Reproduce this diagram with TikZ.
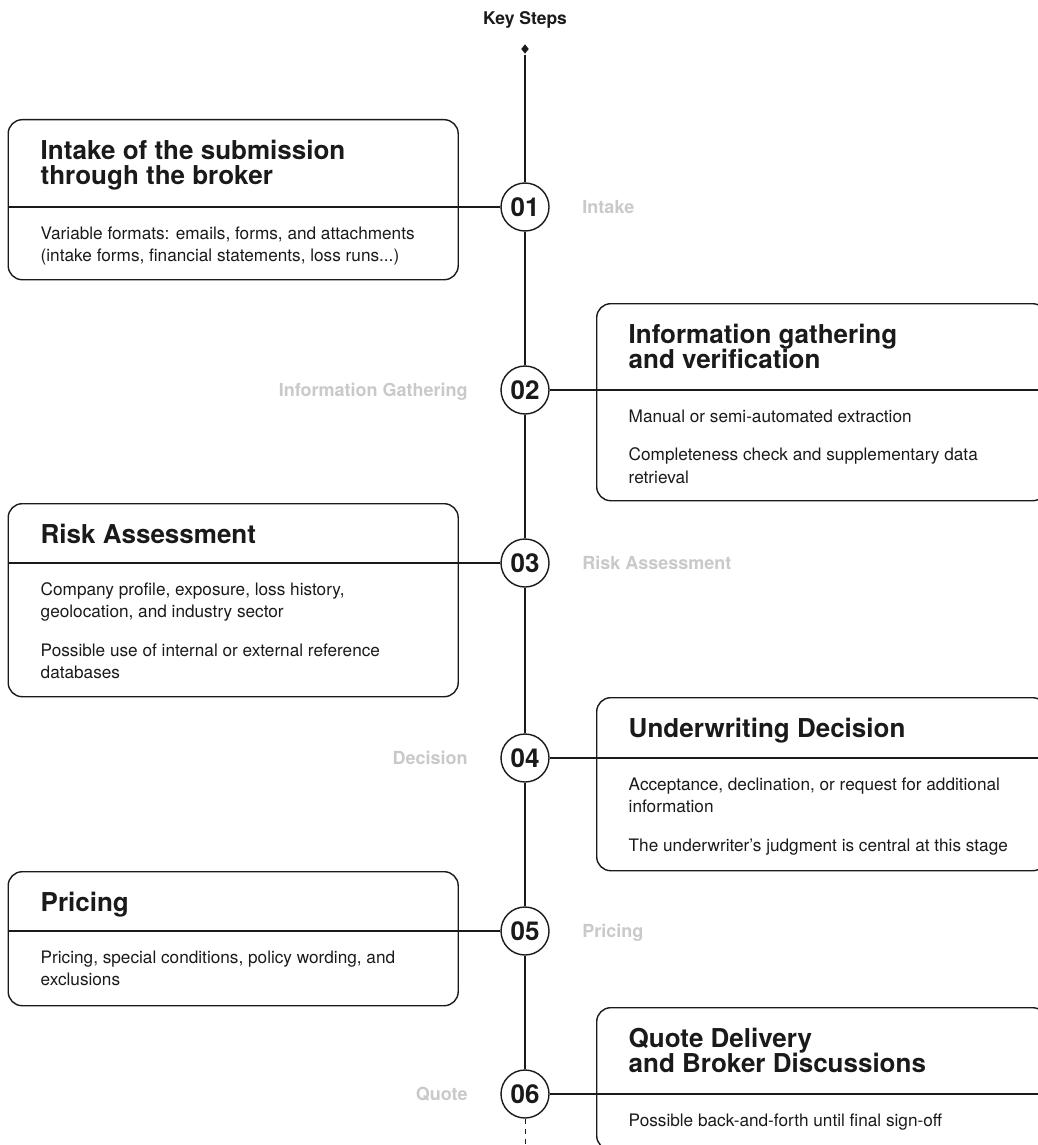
\documentclass[tikz,border=0pt]{standalone}
\usepackage{fontspec}
\setmainfont{TeX Gyre Heros}
\usetikzlibrary{shapes.geometric,positioning,calc}
\definecolor{ink}{HTML}{1A1A1A}
\definecolor{faded}{HTML}{C9C9C9}
\newcommand{\tstrut}{\rule{0pt}{22pt}}
\newcommand{\bstrut}{\rule{0pt}{15pt}}

\begin{document}
\begin{tikzpicture}[x=1pt, y=-1pt, line width=1.4pt, color=ink,
  stepbox/.style={draw, rounded corners=14pt, minimum width=450pt, anchor=north west, inner sep=0pt},
  heading/.style={anchor=north west, inner sep=0pt, align=left, font=\fontsize{26}{25.5}\selectfont\bfseries},
  detail/.style={anchor=north west, inner sep=0pt, align=left, font=\fontsize{17.2}{22.5}\selectfont},
  num/.style={draw, circle, fill=white, minimum size=48pt, inner sep=0pt, font=\fontsize{26}{26}\selectfont\bfseries},
  tag/.style={inner sep=0pt, text=faded, text height=12.5pt, text depth=0pt, font=\fontsize{18}{18}\selectfont\bfseries},
  node distance=32pt]
  \useasboundingbox (0,0) rectangle (1037,1145);

  % Header and spine start
  \node[inner sep=0pt, text height=12pt, text depth=0pt, font=\fontsize{17.5}{17.5}\selectfont\bfseries] (keys) at (525,19) {Key Steps};
  \node[diamond, fill=ink, inner sep=0pt, minimum width=8pt, minimum height=10pt] (top) at (525,49) {};

  % Boxes for the six steps
  \node[stepbox, minimum height=160pt] (b1) at (7.5,119) {};
  \node[stepbox, minimum height=197pt] (b2) at (596,303) {};
  \node[stepbox, minimum height=193pt] (b3) at (7.5,503) {};
  \node[stepbox, minimum height=173pt] (b4) at (596,697) {};
  \node[stepbox, minimum height=134pt] (b5) at (7.5,871) {};
  \node[stepbox, minimum height=142pt] (b6) at (596,1007) {};

  % Headings
  \node[heading] (t1) at ($(b1.north west)+(32.5,17.5)$) {\tstrut Intake of the submission\\through the broker};
  \node[heading] (t2) at ($(b2.north west)+(32,17.5)$) {\tstrut Information gathering\\and verification};
  \node[heading] (t3) at ($(b3.north west)+(32.5,17.5)$) {\tstrut Risk Assessment};
  \node[heading] (t4) at ($(b4.north west)+(32,17.5)$) {\tstrut Underwriting Decision};
  \node[heading] (t5) at ($(b5.north west)+(32.5,17.5)$) {\tstrut Pricing};
  \node[heading] (t6) at ($(b6.north west)+(32,17.5)$) {\tstrut Quote Delivery\\and Broker Discussions};

  % Step numbers on the spine
  \node[num] (c1) at (525,207) {01};
  \node[num] (c2) at (525,390) {02};
  \node[num] (c3) at (525,563) {03};
  \node[num] (c4) at (525,758) {04};
  \node[num] (c5) at (525,931) {05};
  \node[num] (c6) at (525,1094) {06};
  \coordinate (tail) at (525,1145);

  % Details under the dividers
  \node[detail] (d1) at (40,223.5) {\bstrut Variable formats: emails, forms, and attachments\\(intake forms, financial statements, loss runs...)};
  \node[detail] (d2) at (628,406.5) {\bstrut Manual or semi-automated extraction\\[16pt]Completeness check and supplementary data\\retrieval};
  \node[detail] (d3) at (40,579.5) {\bstrut Company profile, exposure, loss history,\\geolocation, and industry sector\\[16pt]Possible use of internal or external reference\\databases};
  \node[detail] (d4) at (628,774.5) {\bstrut Acceptance, declination, or request for additional\\information\\[16pt]The underwriter's judgment is central at this stage};
  \node[detail] (d5) at (40,947.5) {\bstrut Pricing, special conditions, policy wording, and\\exclusions};
  \node[detail] (d6) at (628,1110.5) {\bstrut Possible back-and-forth until final sign-off};

  % Phase tags
  \node[tag, right=of c1] (p1) {Intake};
  \node[tag, left=of c2] (p2) {Information Gathering};
  \node[tag, right=of c3] (p3) {Risk Assessment};
  \node[tag, left=of c4] (p4) {Decision};
  \node[tag, right=of c5] (p5) {Pricing};
  \node[tag, left=of c6] (p6) {Quote};

  % Spine and dividers
  \path
    (top) edge (c1)
    (c1) edge (c2)
    (c2) edge (c3)
    (c3) edge (c4)
    (c4) edge (c5)
    (c5) edge (c6)
    (c6) edge[dash pattern=on 5pt off 5pt, line width=1pt] (tail)
    (c1) edge (b1.west |- c1)
    (c2) edge (b2.east |- c2)
    (c3) edge (b3.west |- c3)
    (c4) edge (b4.east |- c4)
    (c5) edge (b5.west |- c5)
    (c6) edge (b6.east |- c6);
\end{tikzpicture}
\end{document}
